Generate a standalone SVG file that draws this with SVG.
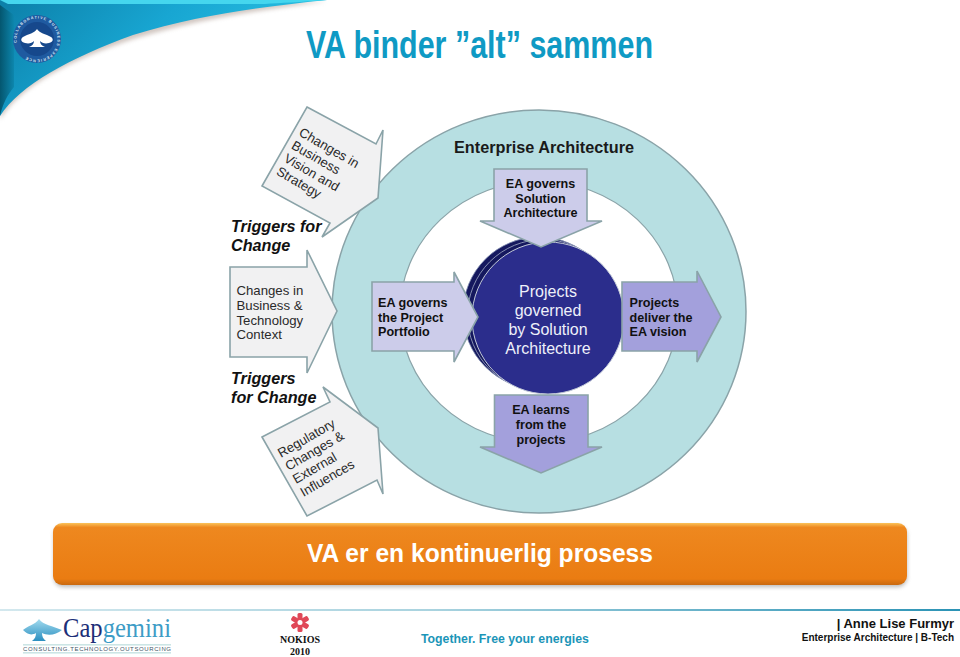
<svg xmlns="http://www.w3.org/2000/svg" width="960" height="657" viewBox="0 0 960 657">
<style>
text{font-family:"Liberation Sans",Arial,sans-serif}
.a{stroke:#8aa3a8;stroke-width:1.6;stroke-linejoin:miter}
.g{fill:#f1f1f2}
.l{fill:#ccccea}
.d{fill:#a3a0dc}
.gt{font-size:13.2px;fill:#2a2a2a}
.bt{font-size:12.6px;font-weight:bold;fill:#111}
.tr{font-size:16.2px;font-weight:bold;font-style:italic;fill:#111}
.m{text-anchor:middle}
.w{font-size:16px;fill:#eef0fa;text-anchor:middle}
.s{font-family:"Liberation Serif","Times New Roman",serif;font-size:10px;font-weight:bold;fill:#111;text-anchor:middle}
</style>
<defs>
<linearGradient id="sw" x1="0" y1="0" x2="1" y2="0.35"><stop offset="0" stop-color="#0c7fa8"/><stop offset="0.5" stop-color="#18a6d2"/><stop offset="1" stop-color="#2bc3e4"/></linearGradient>
<linearGradient id="bev" x1="0" y1="0" x2="1" y2="0"><stop offset="0" stop-color="#04566f"/><stop offset="1" stop-color="#0d86ad"/></linearGradient>
<linearGradient id="or" x1="0" y1="0" x2="0" y2="1"><stop offset="0" stop-color="#fbc35a"/><stop offset="0.07" stop-color="#ee881f"/><stop offset="0.9" stop-color="#ea7c12"/><stop offset="1" stop-color="#c9690f"/></linearGradient>
<linearGradient id="fl" x1="0" y1="0" x2="1" y2="0"><stop offset="0" stop-color="#d3e8ee"/><stop offset="0.45" stop-color="#a9d3df"/><stop offset="1" stop-color="#2b93b5"/></linearGradient>
<linearGradient id="sp" x1="0" y1="0" x2="0" y2="1"><stop offset="0" stop-color="#a4dcef"/><stop offset="1" stop-color="#2b8fc0"/></linearGradient>
<filter id="sh" x="-5%" y="-20%" width="110%" height="140%"><feGaussianBlur stdDeviation="2"/></filter>
<path id="lc" d="M37 59.500A20.500 20.500 0 1 1 37.100 59.500" transform="rotate(80 37 39)"/>
</defs>

<g id="header">
<path d="M0 118C20 85 70 58 135 37C200 17 270 7 327 0L0 0Z" fill="#b9a9a0" opacity="0.65" filter="url(#sh)" transform="translate(0,1.500)"/>
<path d="M0 116C20 85 70 58 133 35C200 14 270 6 327 0L0 0Z" fill="url(#sw)"/>
<path d="M0 0L327 0C300 2 280 3 265 4L8 4Z" fill="#45d6ee"/>
<path d="M0 5L14 15L14 87C8 94 3 103 0 116Z" fill="url(#bev)"/>
<circle cx="37" cy="39" r="24" fill="#1f5aa0"/>
<circle cx="37" cy="39" r="17" fill="#16488c"/>
<path d="M37 29C35 33 28 34 23 37C20 39 21 42 25 43C29 44 32 43 34 41C34 44 32 46 29 47L45 47C42 46 40 44 40 41C42 43 45 44 49 43C53 42 54 39 51 37C46 34 39 33 37 29Z" fill="#fff"/>
<text font-size="3.800" font-weight="bold" fill="#d8e6f4" letter-spacing="1"><textPath href="#lc">COLLABORATIVE BUSINESS EXPERIENCE</textPath></text>
</g>

<text id="title" x="306" y="58" font-size="38" font-weight="bold" fill="#0f9ac4" textLength="347" lengthAdjust="spacingAndGlyphs">VA binder ”alt” sammen</text>

<g id="ring">
<ellipse cx="539" cy="311.500" rx="207" ry="201.500" fill="#b7dfe2" stroke="#8aa3a8" stroke-width="1.500"/>
<ellipse cx="539" cy="312" rx="139" ry="131" fill="#fff" stroke="#8aa3a8" stroke-width="1.200"/>
<text x="454" y="153" font-size="16" font-weight="bold" fill="#1a1a1a" textLength="180" lengthAdjust="spacingAndGlyphs">Enterprise Architecture</text>
</g>

<g id="projects">
<circle cx="539" cy="313" r="76" fill="#15185e" stroke="#7f8cb0" stroke-width="0.800"/>
<circle cx="543.500" cy="315.500" r="76" fill="#15185e" stroke="#a4aec8" stroke-width="0.800"/>
<circle cx="548" cy="318" r="76" fill="#2b2d8c" stroke="#c3cad8"/>
<text class="w" x="548" y="297">Projects</text>
<text class="w" x="548" y="316">governed</text>
<text class="w" x="548" y="335">by Solution</text>
<text class="w" x="548" y="354">Architecture</text>
</g>

<g id="ea-solution">
<path class="a l" d="M494 169L587 169L587 221L602 221L541 247L480 221L494 221Z"/>
<text class="bt m" x="540.500" y="188">EA governs</text>
<text class="bt m" x="540.500" y="203">Solution</text>
<text class="bt m" x="540.500" y="217">Architecture</text>
</g>
<g id="ea-portfolio">
<path class="a l" d="M372 282L454 282L454 272L478 317L454 362L454 351L372 351Z"/>
<text class="bt" x="378" y="307">EA governs</text>
<text class="bt" x="378" y="321.500">the Project</text>
<text class="bt" x="378" y="336">Portfolio</text>
</g>
<g id="ea-vision">
<path class="a d" d="M622 282L697 282L697 271L721 317L697 362L697 351L622 351Z"/>
<text class="bt" x="629.500" y="307">Projects</text>
<text class="bt" x="629.500" y="321.500">deliver the</text>
<text class="bt" x="629.500" y="336">EA vision</text>
</g>
<g id="ea-learns">
<path class="a d" d="M494.500 395L588 395L588 447L602 447L541 473L480 447L494.500 447Z"/>
<text class="bt m" x="541" y="414">EA learns</text>
<text class="bt m" x="541" y="429">from the</text>
<text class="bt m" x="541" y="443.500">projects</text>
</g>

<g id="trigger-business">
<path class="a g" d="M307 107L376 144L383 130L378 198L322 237L330 223L262 186Z"/>
<g transform="translate(298,135) rotate(30)"><text class="gt" x="0" y="0">Changes in</text><text class="gt" x="0" y="15">Business</text><text class="gt" x="0" y="30">Vision and</text><text class="gt" x="0" y="45">Strategy</text></g>
</g>
<g id="trigger-context">
<path class="a g" d="M230 267L307 267L307 250L337 311L307 373L307 357L230 357Z"/>
<text class="gt" x="236.500" y="295">Changes in</text>
<text class="gt" x="236.500" y="310">Business &amp;</text>
<text class="gt" x="236.500" y="324.500">Technology</text>
<text class="gt" x="236.500" y="339">Context</text>
</g>
<g id="trigger-regulatory">
<path class="a g" d="M262 437L330 402L323 387L378 428L383 494L377 480L307 516Z"/>
<g transform="translate(281,458) rotate(-30)"><text class="gt" x="0" y="0">Regulatory</text><text class="gt" x="0" y="15">Changes &amp;</text><text class="gt" x="0" y="30">External</text><text class="gt" x="0" y="45">Influences</text></g>
</g>

<text class="tr" x="231" y="232">Triggers for</text>
<text class="tr" x="231" y="251">Change</text>
<text class="tr" x="231" y="384">Triggers</text>
<text class="tr" x="231" y="403">for Change</text>

<g id="banner">
<rect x="54" y="526" width="853" height="61" rx="9" fill="#8a8a8a" opacity="0.6" filter="url(#sh)"/>
<rect x="53" y="523" width="854" height="62" rx="9" fill="url(#or)"/>
<text x="480" y="562" font-size="25" font-weight="bold" fill="#fff" text-anchor="middle" textLength="346" lengthAdjust="spacingAndGlyphs">VA er en kontinuerlig prosess</text>
</g>

<g id="footer">
<rect x="0" y="609" width="960" height="2" fill="url(#fl)"/>
<path d="M23 630C27 626 35 625 39 619C43 625 53 626 62 630C56 635 48 636 42 633C42 636 43 639 46 641L32 641C35 639 36 636 36 633C31 636 27 634 23 630Z" fill="url(#sp)"/>
<text x="63" y="637" font-size="27" textLength="108" lengthAdjust="spacingAndGlyphs" style="font-family:'Liberation Serif',serif"><tspan fill="#1c2f78">Cap</tspan><tspan fill="#3d9cc6">gemini</tspan></text>
<rect x="23" y="644.500" width="148" height="0.800" fill="#9cc"/>
<rect x="23" y="652.500" width="148" height="0.800" fill="#9cc"/>
<text x="23" y="651" font-size="6" fill="#456" textLength="148">CONSULTING.TECHNOLOGY.OUTSOURCING</text>
<g fill="#e04858"><rect x="297.500" y="613" width="5" height="19" rx="1.500"/><rect x="297.500" y="613" width="5" height="19" rx="1.500" transform="rotate(60 300 622.500)"/><rect x="297.500" y="613" width="5" height="19" rx="1.500" transform="rotate(120 300 622.500)"/></g>
<circle cx="300" cy="622.500" r="2.500" fill="#fff"/>
<text class="s" x="300" y="643">NOKIOS</text>
<text class="s" x="300" y="655">2010</text>
<text x="421" y="643" font-size="12.300" font-weight="bold" fill="#1b95b8">Together. Free your energies</text>
<text x="954" y="628" font-size="13" font-weight="bold" fill="#111" text-anchor="end">| Anne Lise Furmyr</text>
<text x="954" y="641" font-size="10" font-weight="bold" fill="#111" text-anchor="end">Enterprise Architecture | B-Tech</text>
</g>
</svg>
